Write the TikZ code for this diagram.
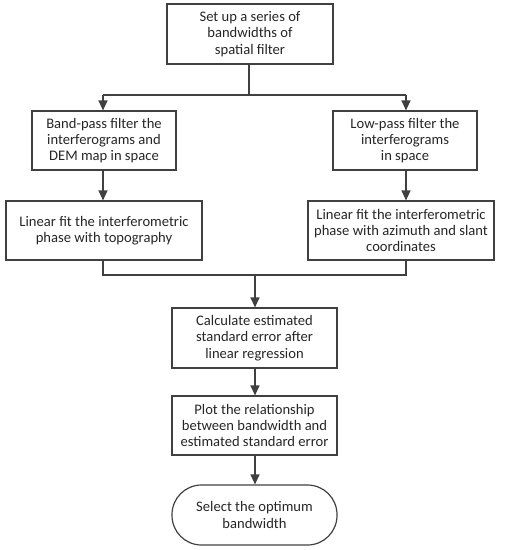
\documentclass[tikz,border=0pt]{standalone}
\usepackage{fontspec}
\setmainfont{Carlito}
\usetikzlibrary{arrows.meta}
\definecolor{linec}{HTML}{404040}
\begin{document}
\begin{tikzpicture}[x=1pt,y=-1pt,
  box/.style={draw=linec,line width=1.2pt,align=center,inner sep=0pt,font=\fontsize{14.6}{16.3}\selectfont,text=black!85},
  flow/.style={draw=linec,line width=1.2pt,-{Triangle[width=9pt,length=10pt]}},
  link/.style={draw=linec,line width=1.2pt}]
\useasboundingbox (0,0) rectangle (509,550);
\node[box,minimum width=166pt,minimum height=60pt] (a) at (250,34) {Set up a series of\\bandwidths of\\spatial filter};
\node[box,minimum width=144pt,minimum height=59pt] (b) at (104,140.5) {Band-pass filter the\\interferograms and\\DEM map in space};
\node[box,minimum width=144pt,minimum height=59pt] (c) at (405,140.5) {Low-pass filter the\\interferograms\\in space};
\node[box,minimum width=196pt,minimum height=59pt] (d) at (104,230.5) {Linear fit the interferometric\\phase with topography};
\node[box,minimum width=186pt,minimum height=59pt] (e) at (401,230.5) {Linear fit the interferometric\\phase with azimuth and slant\\coordinates};
\node[box,minimum width=165pt,minimum height=60pt] (f) at (254.5,338) {Calculate estimated\\standard error after\\linear regression};
\node[box,minimum width=165pt,minimum height=59pt] (g) at (254.5,425.5) {Plot the relationship\\between bandwidth and\\estimated standard error};
\node[box,minimum width=165pt,minimum height=60pt,rounded corners=29.5pt] (h) at (254.5,515) {Select the optimum\\bandwidth};
\coordinate (s) at (249,95);
\coordinate (sl) at (103,95);
\coordinate (sr) at (406,95);
\coordinate (m) at (255,275);
\coordinate (ml) at (103,275);
\coordinate (mr) at (406,275);
\draw[link] (a.south -| s) -- (s);
\draw[link] (sl) -- (sr);
\draw[flow] (sl) -- (sl |- b.north);
\draw[flow] (sr) -- (sr |- c.north);
\draw[flow] (b.south -| sl) -- (sl |- d.north);
\draw[flow] (c.south -| sr) -- (sr |- e.north);
\draw[link] (d.south -| ml) -- (ml) -- (mr) -- (e.south -| mr);
\draw[flow] (m) -- (m |- f.north);
\draw[flow] (f.south -| m) -- (m |- g.north);
\draw[flow] (g.south -| m) -- (m |- h.north);
\end{tikzpicture}
\end{document}
